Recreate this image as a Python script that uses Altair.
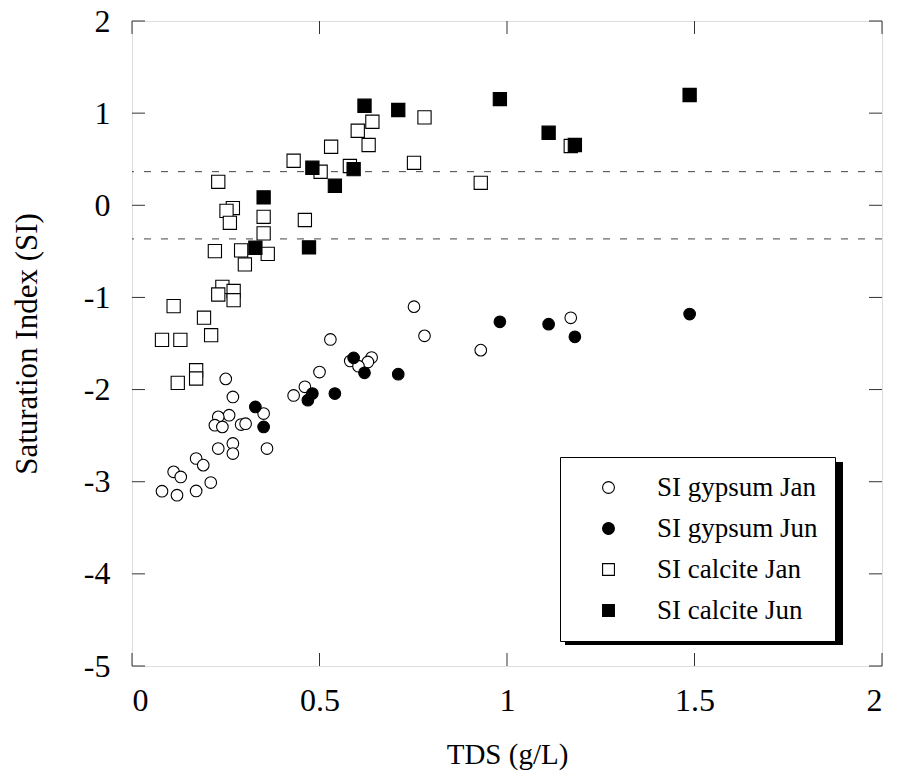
import altair as alt
import pandas as pd

# ---- data ----
gyp_jan_x = [0.752, 0.780, 0.529, 0.639, 0.629, 0.582, 0.604, 0.500, 0.461, 0.431,
             0.250, 0.269, 0.351, 0.259, 0.230, 0.221, 0.241, 0.291, 0.303, 0.360,
             0.230, 0.269, 0.269, 0.171, 0.190, 0.111, 0.130, 0.210, 0.080, 0.120,
             0.171, 0.930, 1.170]
gyp_jan_y = [-1.10, -1.417, -1.456, -1.652, -1.70, -1.69, -1.746, -1.81, -1.97, -2.064,
             -1.884, -2.08, -2.26, -2.278, -2.296, -2.387, -2.405, -2.38, -2.37, -2.64,
             -2.64, -2.585, -2.694, -2.748, -2.82, -2.893, -2.948, -3.009, -3.103, -3.146,
             -3.10, -1.572, -1.221]

gyp_jun_x = [0.329, 0.351, 0.469, 0.481, 0.541, 0.591, 0.620, 0.710, 0.981, 1.111, 1.181, 1.487]
gyp_jun_y = [-2.188, -2.405, -2.115, -2.043, -2.043, -1.656, -1.818, -1.833, -1.265, -1.29, -1.428, -1.181]

cal_jan_x = [0.230, 0.269, 0.252, 0.261, 0.351, 0.351, 0.221, 0.291, 0.362, 0.301,
             0.461, 0.431, 0.503, 0.531, 0.602, 0.641, 0.631, 0.581, 0.752, 0.780,
             0.241, 0.230, 0.271, 0.271, 0.111, 0.192, 0.211, 0.080, 0.129, 0.171,
             0.171, 0.122, 0.930, 1.170]
cal_jan_y = [0.255, -0.03, -0.06, -0.19, -0.125, -0.305, -0.497, -0.49, -0.527, -0.642,
             -0.16, 0.483, 0.364, 0.635, 0.809, 0.907, 0.654, 0.426, 0.461, 0.954,
             -0.885, -0.968, -0.93, -1.03, -1.094, -1.22, -1.41, -1.46, -1.46, -1.79,
             -1.88, -1.927, 0.244, 0.643]

cal_jun_x = [0.620, 0.710, 0.481, 0.591, 0.541, 0.351, 0.329, 0.472, 0.981, 1.111, 1.181, 1.487]
cal_jun_y = [1.08, 1.034, 0.407, 0.393, 0.212, 0.086, -0.461, -0.457, 1.153, 0.787, 0.654, 1.197]

series_names = ["SI gypsum Jan", "SI gypsum Jun", "SI calcite Jan", "SI calcite Jun"]
eq_band = [0.365, -0.365]
x_ticks = [0, 0.5, 1, 1.5, 2]
y_ticks = [-5, -4, -3, -2, -1, 0, 1, 2]

# ---- tables ----
def table(names, xs_list, ys_list):
    frames = [pd.DataFrame({"TDS": xs, "SI": ys, "series": n})
              for n, xs, ys in zip(names, xs_list, ys_list)]
    return pd.concat(frames, ignore_index=True)

df_circ = table(series_names[:2], [gyp_jan_x, gyp_jun_x], [gyp_jan_y, gyp_jun_y])
df_sq = table(series_names[2:], [cal_jan_x, cal_jun_x], [cal_jan_y, cal_jun_y])
df_band = pd.DataFrame({"SI": eq_band})
df_xt = pd.DataFrame({"TDS": x_ticks})
df_yt = pd.DataFrame({"SI": y_ticks})

W, H = 750, 645
TL = 13
FONT = "Liberation Serif"
LX, LY = 428, 436          # legend box position (plot coords)
LW, LH = 278, 183          # legend box size (for the drop shadow)
SH = 5                     # shadow offset

xscale = alt.Scale(domain=[0, 2], nice=False, zero=False)
yscale = alt.Scale(domain=[-5, 2], nice=False, zero=False)
xaxis = alt.Axis(values=x_ticks, labelExpr="'' + datum.value", domain=False, ticks=False,
                 tickSize=0, grid=False, labelFont=FONT, labelFontSize=32, labelColor="black",
                 labelPadding=19, labelBaseline="top", title="TDS (g/L)", titleFont=FONT,
                 titleFontSize=29, titleFontWeight="normal", titleColor="black",
                 titleBaseline="alphabetic", titleY=97, titleX=W / 2)
yaxis = alt.Axis(values=y_ticks, labelExpr="'' + datum.value", domain=False, ticks=False,
                 tickSize=0, grid=False, labelFont=FONT, labelFontSize=32, labelColor="black",
                 labelPadding=22, title="Saturation Index (SI)", titleFont=FONT,
                 titleFontSize=31, titleFontWeight="normal", titleColor="black", titleAngle=270,
                 titleBaseline="alphabetic", titleX=-96, titleY=H / 2, titleAlign="center")

X = lambda: alt.X("TDS:Q", scale=xscale, axis=xaxis)
Y = lambda: alt.Y("SI:Q", scale=yscale, axis=yaxis)

legend = alt.Legend(title=None, orient="none", legendX=LX, legendY=LY,
                    fillColor="white", strokeColor="black", padding=17,
                    symbolOffset=18, labelOffset=35, labelFont=FONT, labelFontSize=27,
                    labelColor="black", rowPadding=13, symbolSize=140,
                    symbolStrokeColor="black", symbolStrokeWidth=1.1, labelLimit=400,
                    labelExpr="datum.label + '\u2002'")
shape_enc = alt.Shape("series:N", sort=series_names, legend=legend,
                      scale=alt.Scale(domain=series_names,
                                      range=["circle", "circle", "square", "square"]))
fill_enc = alt.Fill("series:N", sort=series_names, legend=legend,
                    scale=alt.Scale(domain=series_names,
                                    range=["white", "black", "white", "black"]))
stroke_enc = alt.Stroke("series:N", sort=series_names, legend=legend,
                        scale=alt.Scale(domain=series_names,
                                        range=["black", "black", "black", "black"]))

circles = alt.Chart(df_circ).mark_point(filled=True, strokeWidth=1.1,
                                        opacity=1, size=135).encode(
    x=X(), y=Y(), shape=shape_enc, fill=fill_enc, stroke=stroke_enc)
squares = alt.Chart(df_sq).mark_point(filled=True, strokeWidth=1.1,
                                      opacity=1, size=175).encode(
    x=X(), y=Y(), shape=shape_enc, fill=fill_enc, stroke=stroke_enc)

bands = alt.Chart(df_band).mark_rule(color="#444", strokeWidth=1, strokeDash=[7, 10]).encode(y=Y())

left_t = alt.Chart(df_yt).mark_rule(color="#333", strokeWidth=1).encode(
    y=Y(), x=alt.value(0), x2=alt.value(TL))
right_t = alt.Chart(df_yt).mark_rule(color="#333", strokeWidth=1).encode(
    y=Y(), x=alt.value(W - TL), x2=alt.value(W))
bot_t = alt.Chart(df_xt).mark_rule(color="#333", strokeWidth=1).encode(
    x=X(), y=alt.value(H - TL), y2=alt.value(H))
top_t = alt.Chart(df_xt).mark_rule(color="#333", strokeWidth=1).encode(
    x=X(), y=alt.value(0), y2=alt.value(TL))

shadow = alt.Chart(df_band).mark_rect(color="black").encode(
    x=alt.value(LX + SH), x2=alt.value(LX + LW + SH),
    y=alt.value(LY + SH), y2=alt.value(LY + LH + SH))

chart = alt.layer(bands, left_t, right_t, bot_t, top_t, shadow, circles, squares).properties(
    width=W, height=H,
    padding={"left": 124, "top": 13, "right": 8, "bottom": 106},
    autosize=alt.AutoSizeParams(type="none"),
).configure_view(stroke="#111", strokeWidth=1.2).configure(background="white")

chart.save("out.html", embed_options={"renderer": "svg", "actions": False})
